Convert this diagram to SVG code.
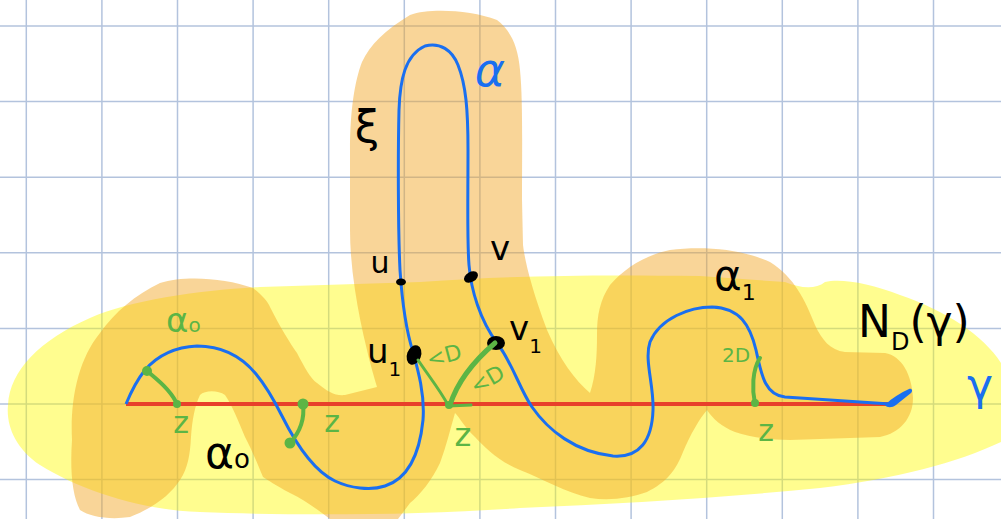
<svg xmlns="http://www.w3.org/2000/svg" width="1001" height="519" viewBox="0 0 1001 519">
<style>
.grid line{stroke:#b3c3dd;stroke-width:1.5}
.blk{font-family:"DejaVu Sans",sans-serif;fill:#000}
.blu{font-family:"DejaVu Sans",sans-serif;fill:#1a6ff0}
.grn{font-family:"DejaVu Sans",sans-serif;fill:#5cb545}
.gs{fill:none;stroke:#5cb545;stroke-linecap:round}
</style>
<rect width="1001" height="519" fill="#fff"/>
<g id="grid" class="grid">
<line x1="26.3" y1="0" x2="26.3" y2="519"/><line x1="101.9" y1="0" x2="101.9" y2="519"/><line x1="177.5" y1="0" x2="177.5" y2="519"/><line x1="253.1" y1="0" x2="253.1" y2="519"/><line x1="328.7" y1="0" x2="328.7" y2="519"/><line x1="404.3" y1="0" x2="404.3" y2="519"/><line x1="479.9" y1="0" x2="479.9" y2="519"/><line x1="555.5" y1="0" x2="555.5" y2="519"/><line x1="631.1" y1="0" x2="631.1" y2="519"/><line x1="706.7" y1="0" x2="706.7" y2="519"/><line x1="782.3" y1="0" x2="782.3" y2="519"/><line x1="857.9" y1="0" x2="857.9" y2="519"/><line x1="933.5" y1="0" x2="933.5" y2="519"/>
<line x1="0" y1="26" x2="1001" y2="26"/><line x1="0" y1="101.6" x2="1001" y2="101.6"/><line x1="0" y1="177.2" x2="1001" y2="177.2"/><line x1="0" y1="252.8" x2="1001" y2="252.8"/><line x1="0" y1="328.4" x2="1001" y2="328.4"/><line x1="0" y1="404" x2="1001" y2="404"/><line x1="0" y1="479.6" x2="1001" y2="479.6"/>
</g>
<g id="neighbourhood-gamma">
<path fill="#fffa00" fill-opacity="0.44" d="M8,405 C10,370 40,340 90,318 C130,300 200,290 260,287 L420,282 C520,275 600,275 700,276 L785,282 C800,288 815,290 825,282 C840,278 870,283 900,295 C950,312 990,340 1005,370 L1005,440 C960,462 900,478 820,488 C720,498 620,504 520,508 C420,515 300,516 200,512 C140,510 80,490 40,465 C15,448 6,425 8,405 Z"/>
</g>
<g id="neighbourhood-alpha">
<path fill="#f2a624" fill-opacity="0.47" d="M72,440 C70,400 78,360 100,333 C115,312 135,295 160,283 C185,275 225,278 253,288 C262,295 268,302 270,307 C280,327 290,343 297,353 C305,368 310,378 317,383 C328,392 335,396 345,395 L377,387 C372,370 368,355 367,350 C362,330 358,310 355,290 C352,270 350,250 350,230 L350,150 C350,110 355,80 362,62 C370,45 385,30 410,15 C430,8 470,10 497,20 C510,30 518,45 520,70 C523,100 522,150 522,200 L523,245 C525,262 532,290 547,330 C560,360 575,380 590,393 C596,375 597,355 597,335 C597,315 600,300 610,285 C625,268 645,255 670,250 C700,246 740,248 770,262 C795,278 805,300 815,325 C822,340 830,350 845,352 L885,353 C902,356 912,375 913,398 C913,418 900,433 880,437 L790,440 C770,440 750,437 735,432 C722,427 712,418 707,410 C700,418 690,435 683,452 C676,470 667,482 647,492 C630,498 610,501 590,498 C565,492 545,480 520,470 C500,462 485,448 475,437 C465,428 460,418 455,413 C450,430 446,447 440,463 C432,480 420,495 410,503 L398,519 L330,519 C318,510 305,500 290,493 C275,485 268,480 263,477 C258,465 252,450 245,437 C238,420 232,405 225,395 C218,390 205,390 200,395 C195,405 192,420 191,437 C190,455 188,468 180,480 C170,495 155,507 130,517 C110,520 90,517 80,510 C72,495 70,470 72,440 Z"/>
</g>
<g id="geodesic-gamma">
<line x1="126" y1="404" x2="890" y2="404" stroke="#e8402a" stroke-width="4"/>
</g>
<g id="path-alpha">
<path fill="none" stroke="#1a6ff0" stroke-width="3" stroke-linejoin="round" d="M126,404 C131,392 137,380 145,370 C158,355 175,347 197,346 C222,346 242,357 256,374 C266,386 274,400 282,416 C295,442 312,470 335,481 C350,488 370,491 385,486 C410,478 420,450 423,420 C425,395 418,370 413,352 C406,330 402,300 400,270 C398,230 398,150 399,110 C400,80 405,55 425,46 C440,42 452,50 458,65 C466,85 468,110 468,150 C468,200 467,240 469,265 C471,290 480,320 497,343 C512,362 520,390 532,407 C548,430 575,452 613,456 C640,458 652,440 653,410 C654,385 644,360 650,342 C660,318 690,307 712,307 C740,308 750,325 756,350 C761,372 764,395 785,397 L890,404"/>
<path fill="#1a6ff0" d="M885,405 C892,398 900,393 909,389 C912,388 913,391 911,393 C906,397 901,401 896,405 C892,408 887,408 885,405 Z"/>
</g>
<g id="points">
<ellipse cx="401" cy="282" rx="5" ry="3.5" fill="#000"/>
<ellipse cx="471" cy="277" rx="7.5" ry="5" transform="rotate(-30 471 277)" fill="#000"/>
<ellipse cx="414" cy="355" rx="7" ry="10" transform="rotate(20 414 355)" fill="#000"/>
<ellipse cx="496" cy="343" rx="9" ry="7" fill="#000"/>
</g>
<g id="connectors">
<path class="gs" stroke-width="4" d="M147,371 C158,380 170,390 176,402"/>
<circle cx="147" cy="371" r="5" fill="#5cb545"/>
<circle cx="177" cy="404" r="4" fill="#5cb545"/>
<path class="gs" stroke-width="4" d="M303,404 C305,420 300,432 290,443"/>
<circle cx="303" cy="404" r="5.5" fill="#5cb545"/>
<circle cx="290" cy="443" r="5.5" fill="#5cb545"/>
<path class="gs" stroke-width="3" d="M418,360 C428,375 440,390 448,405"/>
<path class="gs" stroke-width="5" d="M495,343 C475,360 458,380 450,405"/>
<path class="gs" stroke-width="3" d="M448,406 L471,405"/>
<circle cx="449" cy="405" r="4" fill="#5cb545"/>
<path class="gs" stroke-width="4" d="M755,404 C752,390 752,370 760,358"/>
<circle cx="755" cy="403" r="4" fill="#5cb545"/>
</g>
<g id="labels">
<text class="blu" x="490" y="86" font-size="46" text-anchor="middle" font-style="italic">α</text>
<text class="blk" x="367" y="142" font-size="44" text-anchor="middle">ξ</text>
<text class="blk" x="380" y="273" font-size="30" text-anchor="middle">u</text>
<text class="blk" x="500" y="260" font-size="34" text-anchor="middle">v</text>
<text class="blk" x="367" y="363" font-size="34">u<tspan font-size="20" dy="13">1</tspan></text>
<text class="blk" x="509" y="340" font-size="34">v<tspan font-size="20" dy="13">1</tspan></text>
<text class="blk" x="205" y="468" font-size="44">α<tspan font-size="26" dy="0">o</tspan></text>
<text class="blk" x="714" y="290" font-size="42">α<tspan font-size="22" dy="10">1</tspan></text>
<text class="blk" x="858" y="337" font-size="44">N<tspan font-size="24" dy="13">D</tspan><tspan dy="-13">(γ)</tspan></text>
<text class="blu" x="980" y="400" font-size="44" text-anchor="middle">γ</text>
<text class="grn" x="166" y="332" font-size="34">α<tspan font-size="20">o</tspan></text>
<text class="grn" x="181" y="433" font-size="30" text-anchor="middle">z</text>
<text class="grn" x="332" y="432" font-size="30" text-anchor="middle">z</text>
<text class="grn" x="463" y="446" font-size="32" text-anchor="middle">z</text>
<text class="grn" x="766" y="441" font-size="30" text-anchor="middle">z</text>
<text class="grn" x="0" y="0" font-size="22" text-anchor="middle" transform="translate(446,363) rotate(-15)">&lt;D</text>
<text class="grn" x="0" y="0" font-size="22" text-anchor="middle" transform="translate(491,386) rotate(-30)">&lt;D</text>
<text class="grn" x="736" y="362" font-size="20" text-anchor="middle">2D</text>
</g>
</svg>
